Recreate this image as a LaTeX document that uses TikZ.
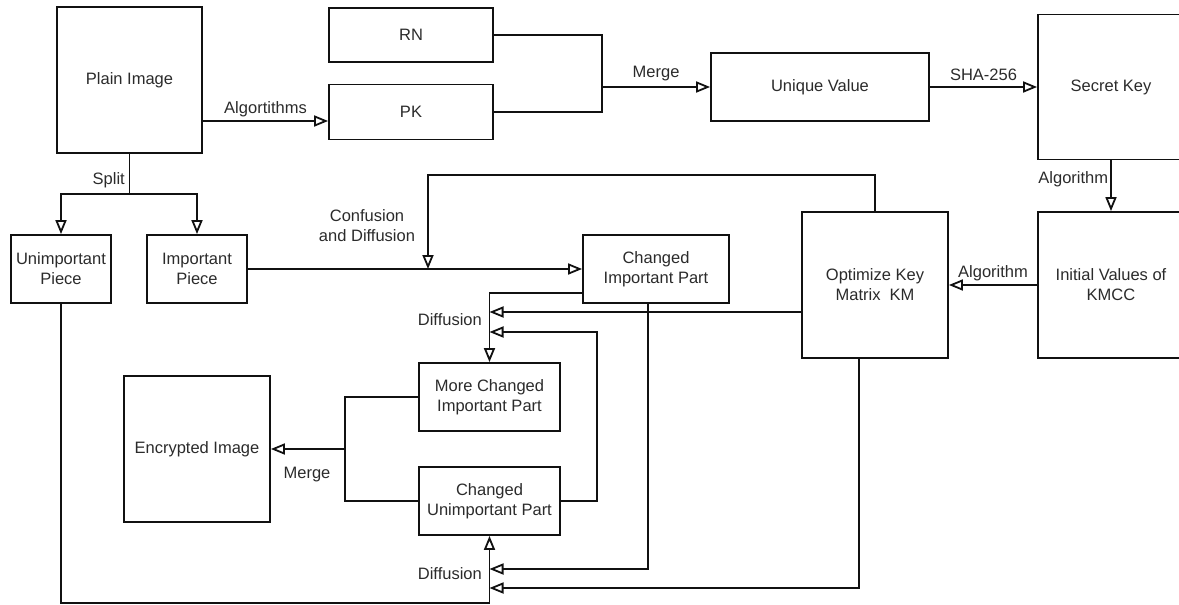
\documentclass[tikz,border=0pt]{standalone}
\usepackage{fontspec}
\setmainfont{Liberation Sans}
\usepackage{tikz}
\usetikzlibrary{calc,positioning,arrows.meta}
\definecolor{traco}{HTML}{111111}
\definecolor{texto}{HTML}{2B2B2B}

\begin{document}
\begin{tikzpicture}[x=1pt,y=-1pt,
    bloco/.style={draw=traco, line width=1.8pt, fill=white, align=center, inner sep=2pt,
      text=texto, font=\fontsize{16.5}{20}\selectfont},
    rotulo/.style={text=texto, align=center, inner sep=2pt, font=\fontsize{16.5}{20}\selectfont},
    linha/.style={line width=1.8pt, traco},
    seta/.style={-{Triangle[open,length=14pt,width=11pt]}, line width=1.8pt, traco}]
  \useasboundingbox (0,0) rectangle (1179,605);
  % upper row
  \node[bloco, minimum width=145pt, minimum height=146pt] (plain) at (129.5,80) {Plain Image};
  \node[bloco, minimum width=164pt, minimum height=54pt] (rn) at (411,35) {RN};
  \node[bloco, minimum width=164pt, minimum height=55pt] (pk) at (411,112) {PK};
  \node[bloco, minimum width=218pt, minimum height=68pt] (uniq) at (820,87) {Unique Value};
  \node[bloco, minimum width=146pt, minimum height=145pt] (secret) at (1111,87) {Secret Key};
  \node[bloco, minimum width=146pt, minimum height=146pt] (init) at (1111,285) {Initial Values of\\$\mathrm{KMCC}$};
  \node[bloco, minimum width=146pt, minimum height=146pt] (optim) at (875,285) {Optimize Key\\Matrix \ $\mathrm{KM}$};
  % pieces
  \node[bloco, minimum width=100pt, minimum height=68pt] (unimp) at (61,269) {Unimportant\\Piece};
  \node[bloco, minimum width=100pt, minimum height=68pt] (imp) at (197,269) {Important\\Piece};
  \node[bloco, minimum width=146pt, minimum height=68pt] (cip) at (656,269) {Changed\\Important Part};
  \node[bloco, minimum width=141pt, minimum height=68pt] (mcip) at (489.5,397) {More Changed\\Important Part};
  \node[bloco, minimum width=141pt, minimum height=68pt] (cup) at (489.5,501) {Changed\\Unimportant Part};
  \node[bloco, minimum width=146pt, minimum height=146pt] (enc) at (197,449) {Encrypted Image};

  % key generation
  \coordinate (alg) at ([yshift=-9pt]pk.west);
  \draw[seta] (plain.east |- alg) -- (alg) node[rotulo, midway, above=1pt] {Algortithms};
  \coordinate (m1) at (602,87);
  \draw[linha] (rn.east) -| (m1);
  \draw[linha] (pk.east) -| (m1);
  \draw[seta] (m1) -- (uniq.west) node[rotulo, midway, above=3pt] {Merge};
  \draw[seta] (uniq.east) -- (secret.west) node[rotulo, midway, above=3pt] {SHA-256};
  \draw[seta] (secret.south) -- (init.north) node[rotulo, pos=0.38, left=0pt] {Algorithm};
  \draw[seta] (init.west) -- (optim.east) node[rotulo, midway, above=1pt] {Algorithm};

  % split
  \coordinate (sp) at (129.5,194);
  \node[rotulo, left] (split) at (127,180) {Split};
  \draw[linha] (plain.south) -- (sp);
  \draw[seta] (sp) -| (unimp.north);
  \draw[seta] (sp) -| (imp.north);

  % confusion and diffusion
  \draw[seta] (imp.east) -- (cip.west);
  \coordinate (cd) at (428,175);
  \draw[seta] (optim.north) |- (cd) -- (cd |- imp.east);
  \node[rotulo] (conf) at (367,226) {Confusion\\and Diffusion};

  % diffusion of the important part
  \coordinate (ka) at (mcip.north |- 0,312);
  \coordinate (kb) at (mcip.north |- 0,332);
  \draw[seta] ([yshift=11pt]cip.south west) -| (mcip.north);
  \draw[seta] (optim.west |- ka) -- (ka);
  \draw[seta] (cup.east) -- ++(36,0) |- (kb);
  \node[rotulo, left] (dif1) at (484,320) {Diffusion};

  % diffusion of the unimportant part
  \coordinate (kc) at (cup.south |- 0,569);
  \coordinate (kd) at (cup.south |- 0,588);
  \coordinate (ke) at (cup.south |- 0,603);
  \draw[seta] ([xshift=-8pt]cip.south) |- (kc);
  \draw[seta] ([xshift=-16pt]optim.south) |- (kd);
  \draw[seta] (unimp.south) |- (ke) -- (cup.south);
  \node[rotulo, left] (dif2) at (484,574) {Diffusion};

  % final merge
  \coordinate (mg) at (345,449);
  \draw[linha] (mcip.west) -| (mg);
  \draw[linha] (cup.west) -| (mg);
  \draw[seta] (mg) -- (enc.east);
  \node[rotulo] (merge2) at (307,475) {Merge};
\end{tikzpicture}
\end{document}
